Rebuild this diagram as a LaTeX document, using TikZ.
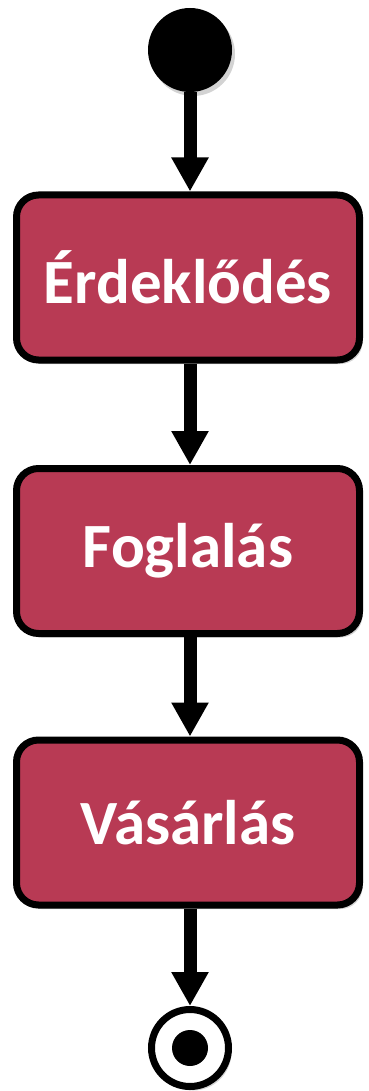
\documentclass[tikz,border=0pt]{standalone}
\usepackage{fontspec}
\setmainfont{Carlito}
\usetikzlibrary{arrows.meta,shadows}
\definecolor{actred}{RGB}{184,58,84}

\begin{document}
\begin{tikzpicture}[x=1pt,y=-1pt]
    \useasboundingbox (0,0) rectangle (369,1091);
    \begin{scope}
        \tikzset{action/.style={draw, line width=7pt, rounded corners=22pt, fill=actred,
                 minimum width=343pt, minimum height=165pt, text=white,
                 font=\fontsize{63}{69}\bfseries\selectfont,
                 drop shadow={opacity=0.35, shadow xshift=3pt, shadow yshift=-4pt}},
                 flow/.style={line width=13pt, -{Triangle[width=35pt, length=34pt]}}}
        % Start and end states
        \node [circle, fill=black, minimum size=84pt, inner sep=0pt,
               drop shadow={opacity=0.35, shadow xshift=3pt, shadow yshift=-4pt}] (start) at (190,50) {};
        \node [circle, draw, line width=7pt, fill=white, minimum size=77pt, inner sep=0pt,
               drop shadow={opacity=0.35, shadow xshift=3pt, shadow yshift=-4pt}] (stop) at (190,1048) {};
        \node [circle, fill=black, minimum size=36pt, inner sep=0pt] (stopdot) at (190,1048) {};

        % The three actions
        \node [action] (erdeklodes) at (188,277.5) {Érdeklődés};
        \node [action] (foglalas) at (188,551) {Foglalás};
        \node [action] (vasarlas) at (188,822.5) {Vásárlás};

        % Connect them
        \draw [flow] (start) -- (start |- erdeklodes.north);
        \draw [flow] (erdeklodes.south -| start) -- (start |- foglalas.north);
        \draw [flow] (foglalas.south -| start) -- (start |- vasarlas.north);
        \draw [flow] (vasarlas.south -| start) -- (stop);
    \end{scope}
\end{tikzpicture}
\end{document}
